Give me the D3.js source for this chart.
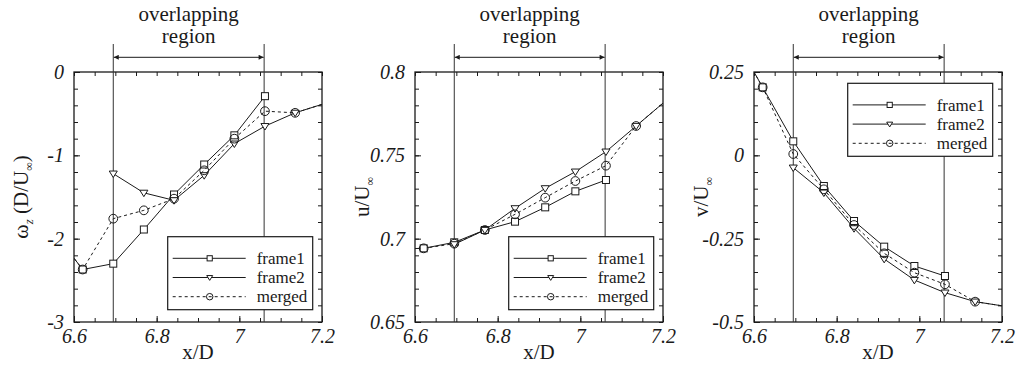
<!DOCTYPE html>
<html><head><meta charset="utf-8">
<script src="https://cdn.jsdelivr.net/npm/d3@7"></script>
<style>body{margin:0;background:#fff} svg text{font-family:"Liberation Serif","Times New Roman",Times,"DejaVu Serif",serif !important;}</style>
</head><body><svg id="c" width="1017" height="383"></svg>
<script>
// ---------- data ----------
const xPos = [6.548, 6.621, 6.695, 6.769, 6.842, 6.915, 6.988, 7.062, 7.135, 7.208];
const overlapBounds = [6.695, 7.06];
const xDomain = [6.6, 7.2];
const xMajor = [6.6, 6.8, 7.0, 7.2];
const xLabels = ["6.6", "6.8", "7", "7.2"];
const seriesNames = ["frame1", "frame2", "merged"];

const omegaFrame1 = [-1.90, -2.37, -2.30, -1.89, -1.47, -1.11, -0.76, -0.29, null, null];
const omegaFrame2 = [null, null, -1.22, -1.45, -1.54, -1.24, -0.86, -0.65, -0.49, -0.376];
const omegaMerged = [-1.90, -2.37, -1.76, -1.66, -1.52, -1.18, -0.80, -0.47, -0.49, -0.376];
const omegaYMajor = [-3, -2, -1, 0];
const omegaYLabels = ["-3", "-2", "-1", "0"];

const uFrame1 = [0.6938, 0.6942, 0.6978, 0.7052, 0.7102, 0.7188, 0.7284, 0.7352, null, null];
const uFrame2 = [null, null, 0.6966, 0.7052, 0.7182, 0.7302, 0.7402, 0.7522, 0.7676, 0.783];
const uMerged = [0.6938, 0.6942, 0.6970, 0.7052, 0.7146, 0.7246, 0.7346, 0.7438, 0.7676, 0.783];
const uYMajor = [0.65, 0.7, 0.75, 0.8];
const uYLabels = ["0.65", "0.7", "0.75", "0.8"];

const vFrame1 = [0.364, 0.204, 0.042, -0.092, -0.197, -0.274, -0.332, -0.362, null, null];
const vFrame2 = [null, null, -0.037, -0.112, -0.219, -0.311, -0.374, -0.412, -0.439, -0.453];
const vMerged = [0.364, 0.204, 0.004, -0.102, -0.209, -0.294, -0.352, -0.387, -0.439, -0.453];
const vYMajor = [-0.5, -0.25, 0, 0.25];
const vYLabels = ["-0.5", "-0.25", "0", "0.25"];

// ---------- layout ----------
const INK = "#1a1a1a";
const plotTop = 72, plotBottom = 322, W = 248;
const panels = [
  {left: 74, yDomain: [-3, 0], yMajor: omegaYMajor, yLabels: omegaYLabels, minorStep: 0.2,
   data: [omegaFrame1, omegaFrame2, omegaMerged], legendY: 164.7,
   title: [["ω", 0, 22], ["z", 1, 13, true], [" (D/U", 0, 21], ["∞", 1, 12], [")", 0, 21]]},
  {left: 415, yDomain: [0.65, 0.8], yMajor: uYMajor, yLabels: uYLabels, minorStep: 0.01,
   data: [uFrame1, uFrame2, uMerged], legendY: 164.7,
   title: [["u/U", 0, 21], ["∞", 1, 12]]},
  {left: 754, yDomain: [-0.5, 0.25], yMajor: vYMajor, yLabels: vYLabels, minorStep: 0.05,
   data: [vFrame1, vFrame2, vMerged], legendY: 11.3,
   title: [["v/U", 0, 21], ["∞", 1, 12]]}
];

const svg = d3.select("#c");
const defs = svg.append("defs");
["s", "e"].forEach(k => {
  defs.append("marker").attr("id", "arr" + k)
    .attr("viewBox", "0 0 10 10").attr("refX", 10).attr("refY", 5)
    .attr("markerWidth", 7).attr("markerHeight", 5).attr("markerUnits", "userSpaceOnUse")
    .attr("orient", "auto-start-reverse")
    .append("path").attr("d", "M0,0 L10,5 L0,10 Z").attr("fill", INK);
});

function drawMarker(g, type, x, y, s) {
  if (type === 0) {
    g.append("rect").attr("x", x - s).attr("y", y - s).attr("width", 2 * s).attr("height", 2 * s)
      .attr("fill", "#fff").attr("stroke", INK).attr("stroke-width", 1);
  } else if (type === 1) {
    const h = s * 1.15;
    g.append("path").attr("d", `M${x - h},${y - s * 0.75} L${x + h},${y - s * 0.75} L${x},${y + s * 1.1} Z`)
      .attr("fill", "#fff").attr("stroke", INK).attr("stroke-width", 1);
  } else {
    g.append("circle").attr("cx", x).attr("cy", y).attr("r", s * 1.25)
      .attr("fill", "none").attr("stroke", INK).attr("stroke-width", 1);
  }
}

panels.forEach((p, pi) => {
  const x = d3.scaleLinear().domain(xDomain).range([p.left, p.left + W]);
  const y = d3.scaleLinear().domain(p.yDomain).range([plotBottom, plotTop]);
  const g = svg.append("g");
  const clipId = "clip" + pi;
  defs.append("clipPath").attr("id", clipId).append("rect")
    .attr("x", p.left).attr("y", plotTop).attr("width", W).attr("height", plotBottom - plotTop);

  const n = Math.round((p.yDomain[1] - p.yDomain[0]) / p.minorStep);
  const yMinor = d3.range(n + 1).map(i => +(p.yDomain[0] + i * p.minorStep).toFixed(4));
  const xMinor = d3.range(13).map(i => +(xDomain[0] + i * 0.05).toFixed(4));

  const axStyle = sel => {
    sel.attr("font-family", null);
    sel.select(".domain").remove();
    sel.selectAll("line").attr("stroke", INK).attr("stroke-width", 1);
    sel.selectAll("text").style("font-style", "italic")
      .attr("font-size", 20).attr("fill", INK);
  };
  g.append("g").attr("transform", `translate(0,${plotBottom})`).call(d3.axisBottom(x).tickValues(xMinor).tickSize(-4).tickFormat("")).call(axStyle);
  g.append("g").attr("transform", `translate(0,${plotTop})`).call(d3.axisTop(x).tickValues(xMinor).tickSize(-4).tickFormat("")).call(axStyle);
  g.append("g").attr("transform", `translate(${p.left},0)`).call(d3.axisLeft(y).tickValues(yMinor).tickSize(-4).tickFormat("")).call(axStyle);
  g.append("g").attr("transform", `translate(${p.left + W},0)`).call(d3.axisRight(y).tickValues(yMinor).tickSize(-4).tickFormat("")).call(axStyle);
  g.append("g").attr("transform", `translate(0,${plotBottom})`)
    .call(d3.axisBottom(x).tickValues(xMajor).tickSize(-6).tickPadding(7).tickFormat((d, i) => xLabels[i])).call(axStyle);
  g.append("g").attr("transform", `translate(${p.left},0)`)
    .call(d3.axisLeft(y).tickValues(p.yMajor).tickSize(-6).tickPadding(10).tickFormat((d, i) => p.yLabels[i])).call(axStyle);

  g.append("rect").attr("x", p.left).attr("y", plotTop).attr("width", W).attr("height", plotBottom - plotTop)
    .attr("fill", "none").attr("stroke", INK).attr("stroke-width", 1.3);

  const xa = x(overlapBounds[0]), xb = x(overlapBounds[1]);
  [xa, xb].forEach(xx => g.append("line").attr("x1", xx).attr("x2", xx).attr("y1", 44).attr("y2", plotBottom)
    .attr("stroke", "#333").attr("stroke-width", 1));
  g.append("line").attr("x1", xa + 0.5).attr("x2", xb - 0.5).attr("y1", 57.3).attr("y2", 57.3)
    .attr("stroke", INK).attr("stroke-width", 1)
    .attr("marker-start", "url(#arrs)").attr("marker-end", "url(#arre)");
  const tx = (xa + xb) / 2;
  g.append("text").attr("x", tx).attr("y", 21).attr("text-anchor", "middle")
    .attr("font-size", 21).attr("fill", INK).text("overlapping");
  g.append("text").attr("x", tx).attr("y", 43).attr("text-anchor", "middle")
    .attr("font-size", 21).attr("fill", INK).text("region");

  g.append("text").attr("x", p.left + W / 2).attr("y", 359).attr("text-anchor", "middle")
    .attr("font-size", 21).attr("fill", INK).text("x/D");
  const yt = g.append("text").attr("transform", `translate(${p.left - 46},${(plotTop + plotBottom) / 2}) rotate(-90)`)
    .attr("text-anchor", "middle").attr("fill", INK);
  let shifted = 0;
  p.title.forEach(([t, sub, fs, it]) => {
    const ts = yt.append("tspan").attr("font-size", fs).text(t);
    if (it) ts.style("font-style", "italic");
    const dy = (sub ? 5 : 0) - shifted;
    if (dy) ts.attr("dy", dy);
    shifted = sub ? 5 : 0;
  });

  const plot = g.append("g").attr("clip-path", `url(#${clipId})`);
  const line = d3.line().defined(d => d[1] != null).x(d => x(d[0])).y(d => y(d[1]));
  p.data.forEach((arr, si) => {
    const pts = xPos.map((xv, i) => [xv, arr[i]]);
    plot.append("path").attr("d", line(pts)).attr("fill", "none").attr("stroke", INK)
      .attr("stroke-width", 1).attr("stroke-dasharray", si === 2 ? "3,3" : null);
  });
  p.data.forEach((arr, si) => {
    xPos.forEach((xv, i) => {
      if (arr[i] == null || xv < xDomain[0] || xv > xDomain[1]) return;
      drawMarker(plot, si, x(xv), y(arr[i]), 3.5);
    });
  });

  const lx = p.left + 93.7, ly = plotTop + p.legendY;
  const lg = g.append("g");
  lg.append("rect").attr("x", lx).attr("y", ly).attr("width", 145).attr("height", 73)
    .attr("fill", "#fff").attr("stroke", INK).attr("stroke-width", 1.2);
  seriesNames.forEach((nm, si) => {
    const ry = ly + 21.6 + si * 19.2;
    lg.append("line").attr("x1", lx + 5).attr("x2", lx + 78).attr("y1", ry).attr("y2", ry)
      .attr("stroke", INK).attr("stroke-width", 1).attr("stroke-dasharray", si === 2 ? "3,3" : null);
    drawMarker(lg, si, lx + 42, ry, 2.6);
    lg.append("text").attr("x", lx + 89).attr("y", ry).attr("dy", "0.33em")
      .attr("font-size", 17).attr("fill", INK).text(nm);
  });
});
</script></body></html>
